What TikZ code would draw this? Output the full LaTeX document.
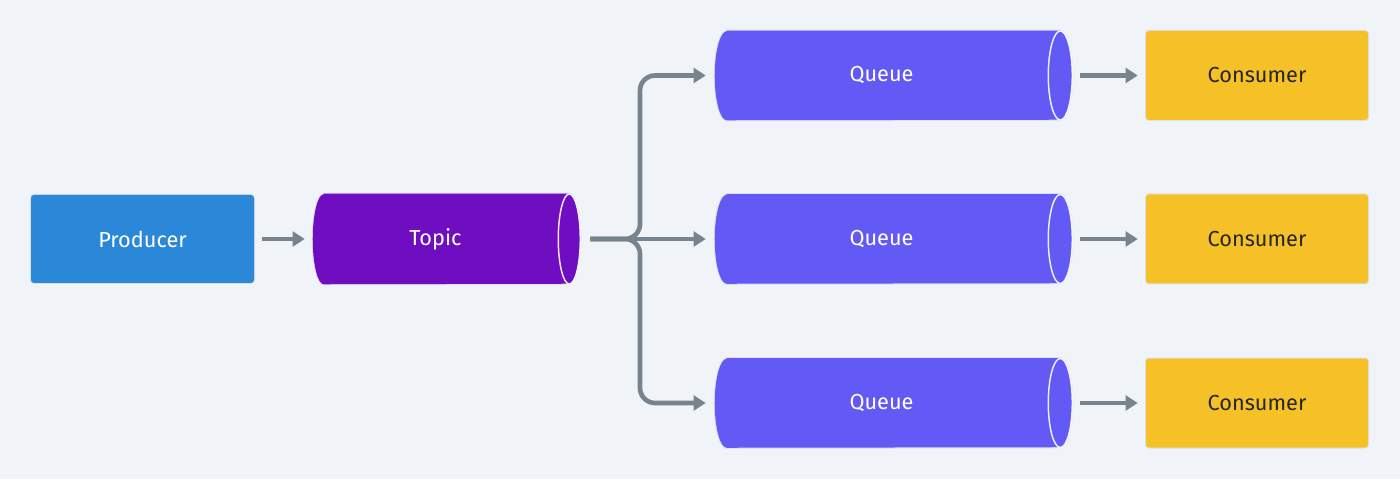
\documentclass[tikz,border=0pt]{standalone}
\usepackage{fontspec}
\setmainfont{Fira Sans}
\usetikzlibrary{arrows.meta,calc}
\definecolor{bgc}{HTML}{F0F3F7}
\definecolor{prodc}{HTML}{2B88D9}
\definecolor{topicc}{HTML}{6E0EC0}
\definecolor{queuec}{HTML}{6359F4}
\definecolor{consc}{HTML}{F6C127}
\definecolor{arrc}{HTML}{77838E}
\definecolor{darktext}{HTML}{262626}
\definecolor{shadowc}{HTML}{DDE1E6}
\pgfdeclarelayer{bg}
\pgfdeclarelayer{body}
\pgfsetlayers{bg,body,main}
\tikzset{
  softshadow/.style={preaction={draw=shadowc, line width=1.5pt}},
  lbl/.style={font=\fontsize{16.3pt}{19pt}\selectfont, inner sep=0pt},
  boxnode/.style={lbl, rectangle, rounded corners=2.25pt, softshadow},
  prodbox/.style={boxnode, fill=prodc, text=white, minimum width=167.25pt, minimum height=66pt},
  consbox/.style={boxnode, fill=consc, text=darktext, minimum width=166.5pt, minimum height=66.75pt},
  topicnode/.style={lbl, text=white, minimum width=183.75pt, minimum height=67.5pt},
  queuenode/.style={lbl, text=white, minimum width=249.75pt, minimum height=66.75pt},
  arr/.style={draw=arrc, line width=3.5pt, -{Triangle[length=9pt,width=11pt]}},
  endring/.style={draw=white, line width=1.1pt, opacity=0.9},
}
% #1 node name, #2 colour, #3 end x radius, #4 half height
\newcommand{\cylbody}[4]{%
  \fill[#2, softshadow] ($(#1.north west)+(#3,0)$) -- ($(#1.north east)+(#3,0)$)
    arc[start angle=90, end angle=-90, x radius=#3, y radius=#4]
    -- ($(#1.south west)+(#3,0)$)
    arc[start angle=270, end angle=90, x radius=#3, y radius=#4] -- cycle;
  \draw[endring] ($(#1.east)+(#3,0)$) ellipse[x radius=#3, y radius=#4];
}
\begin{document}
\begin{tikzpicture}[x=0.75pt,y=0.75pt]
\useasboundingbox (0,0) rectangle (1400,479);
\begin{pgfonlayer}{bg}
  \fill[bgc] (0,0) rectangle (1400,479);
\end{pgfonlayer}

\node[prodbox] (prod) at (142.5,240) {Producer};
\node[topicnode] (topic) at (435.5,240) {Topic};

\node[queuenode] (q1) at (881.5,403.5) {Queue};
\node[queuenode] (q2) at (881.5,240) {Queue};
\node[queuenode] (q3) at (881.5,76) {Queue};

\node[consbox] (c1) at (1257,403.5) {Consumer};
\node[consbox] (c2) at (1257,240) {Consumer};
\node[consbox] (c3) at (1257,76) {Consumer};

\begin{pgfonlayer}{body}
  \cylbody{topic}{topicc}{11}{45}
  \cylbody{q1}{queuec}{12}{44.5}
  \cylbody{q2}{queuec}{12}{44.5}
  \cylbody{q3}{queuec}{12}{44.5}
\end{pgfonlayer}

\coordinate (bx) at (640,240);

\draw[arr] ([xshift=6pt]prod.east) -- ([xshift=-6pt]topic.west);

\draw[arr, rounded corners=11.25pt] ([xshift=24pt]topic.east) -- (bx) -- (bx |- q1) -- ([xshift=-6.75pt]q1.west);
\draw[arr, rounded corners=11.25pt] ([xshift=24pt]topic.east) -- (bx) -- (bx |- q3) -- ([xshift=-6.75pt]q3.west);
\draw[arr] ([xshift=24pt]topic.east) -- ([xshift=-6.75pt]q2.west);

\draw[arr] ([xshift=24pt]q1.east) -- ([xshift=-6pt]c1.west);
\draw[arr] ([xshift=24pt]q2.east) -- ([xshift=-6pt]c2.west);
\draw[arr] ([xshift=24pt]q3.east) -- ([xshift=-6pt]c3.west);
\end{tikzpicture}
\end{document}
